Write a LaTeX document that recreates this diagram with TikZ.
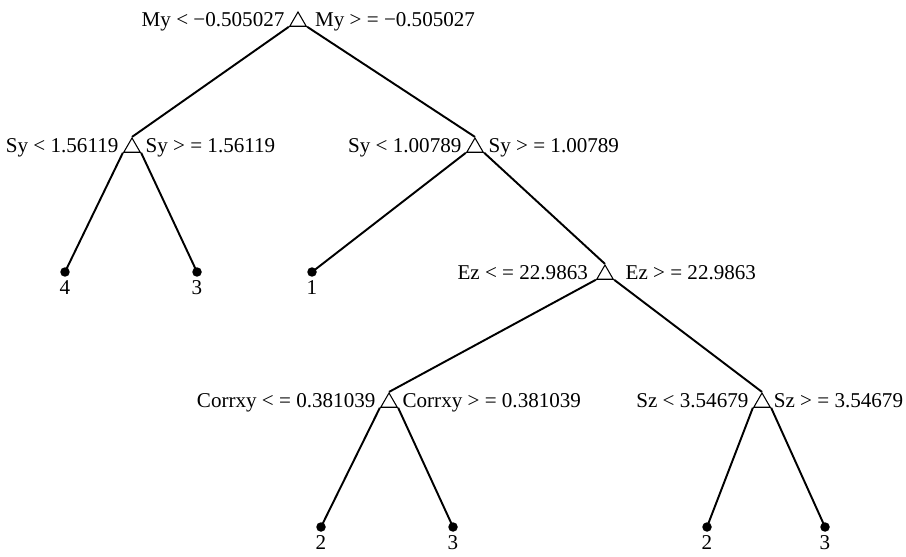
\documentclass[tikz,border=0pt]{standalone}
\usepackage{fontspec}
\setmainfont{Liberation Serif}
\usetikzlibrary{shapes.geometric}

\begin{document}
\begin{tikzpicture}[x=0.02cm,y=-0.02cm,line width=1.1pt,
  every node/.style={font=\fontsize{12}{14}\selectfont},
  split/.style={regular polygon,regular polygon sides=3,draw,fill=white,line width=0.6pt,inner sep=0pt,minimum size=0.38cm},
  leaf/.style={circle,fill,inner sep=0pt,minimum size=0.19cm,label distance=0.06cm},
  ltext/.style={anchor=base east,inner sep=1pt},
  rtext/.style={anchor=base west,inner sep=1pt}]
\useasboundingbox (0,0) rectangle (906,557);
% split nodes
\node[split] (my) at (298,21.5) {};
\node[split] (syA) at (132,147.5) {};
\node[split] (syB) at (475,147.5) {};
\node[split] (ez) at (605,274.5) {};
\node[split] (cxy) at (389,402.5) {};
\node[split] (sz) at (762,402.5) {};
% leaves
\node[leaf,label={[inner sep=1pt]below:4}] (lA) at (65,272) {};
\node[leaf,label={[inner sep=1pt]below:3}] (lB) at (197,272) {};
\node[leaf,label={[inner sep=1pt]below:1}] (lC) at (312,272) {};
\node[leaf,label={[inner sep=1pt]below:2}] (lD) at (321,527) {};
\node[leaf,label={[inner sep=1pt]below:3}] (lE) at (453,527) {};
\node[leaf,label={[inner sep=1pt]below:2}] (lF) at (707,527) {};
\node[leaf,label={[inner sep=1pt]below:3}] (lG) at (825,527) {};
% branches
\draw (my.corner 2) -- (syA.corner 1);
\draw (my.corner 3) -- (syB.corner 1);
\draw (syA.corner 2) -- (lA.center);
\draw (syA.corner 3) -- (lB.center);
\draw (syB.corner 2) -- (lC.center);
\draw (syB.corner 3) -- (ez.corner 1);
\draw (ez.corner 2) -- (cxy.corner 1);
\draw (ez.corner 3) -- (sz.corner 1);
\draw (cxy.corner 2) -- (lD.center);
\draw (cxy.corner 3) -- (lE.center);
\draw (sz.corner 2) -- (lF.center);
\draw (sz.corner 3) -- (lG.center);
% split tests
\node[ltext] (myL) at ([xshift=-1pt]my.corner 2) {My < −0.505027};
\node[rtext] (myR) at ([xshift=3pt]my.corner 3) {My > = −0.505027};
\node[ltext] (syAL) at ([xshift=-1pt]syA.corner 2) {Sy < 1.56119};
\node[rtext] (syAR) at ([xshift=1pt]syA.corner 3) {Sy > = 1.56119};
\node[ltext] (syBL) at ([xshift=-1pt]syB.corner 2) {Sy < 1.00789};
\node[rtext] (syBR) at ([xshift=1pt]syB.corner 3) {Sy > = 1.00789};
\node[ltext] (ezL) at ([xshift=-3pt]ez.corner 2) {Ez < = 22.9863};
\node[rtext] (ezR) at ([xshift=5pt]ez.corner 3) {Ez > = 22.9863};
\node[ltext] (cxyL) at ([xshift=-1pt]cxy.corner 2) {Corrxy < = 0.381039};
\node[rtext] (cxyR) at ([xshift=1pt]cxy.corner 3) {Corrxy > = 0.381039};
\node[ltext] (szL) at ([xshift=-1pt]sz.corner 2) {Sz < 3.54679};
\node[rtext] (szR) at ([xshift=0pt]sz.corner 3) {Sz > = 3.54679};
\end{tikzpicture}
\end{document}
